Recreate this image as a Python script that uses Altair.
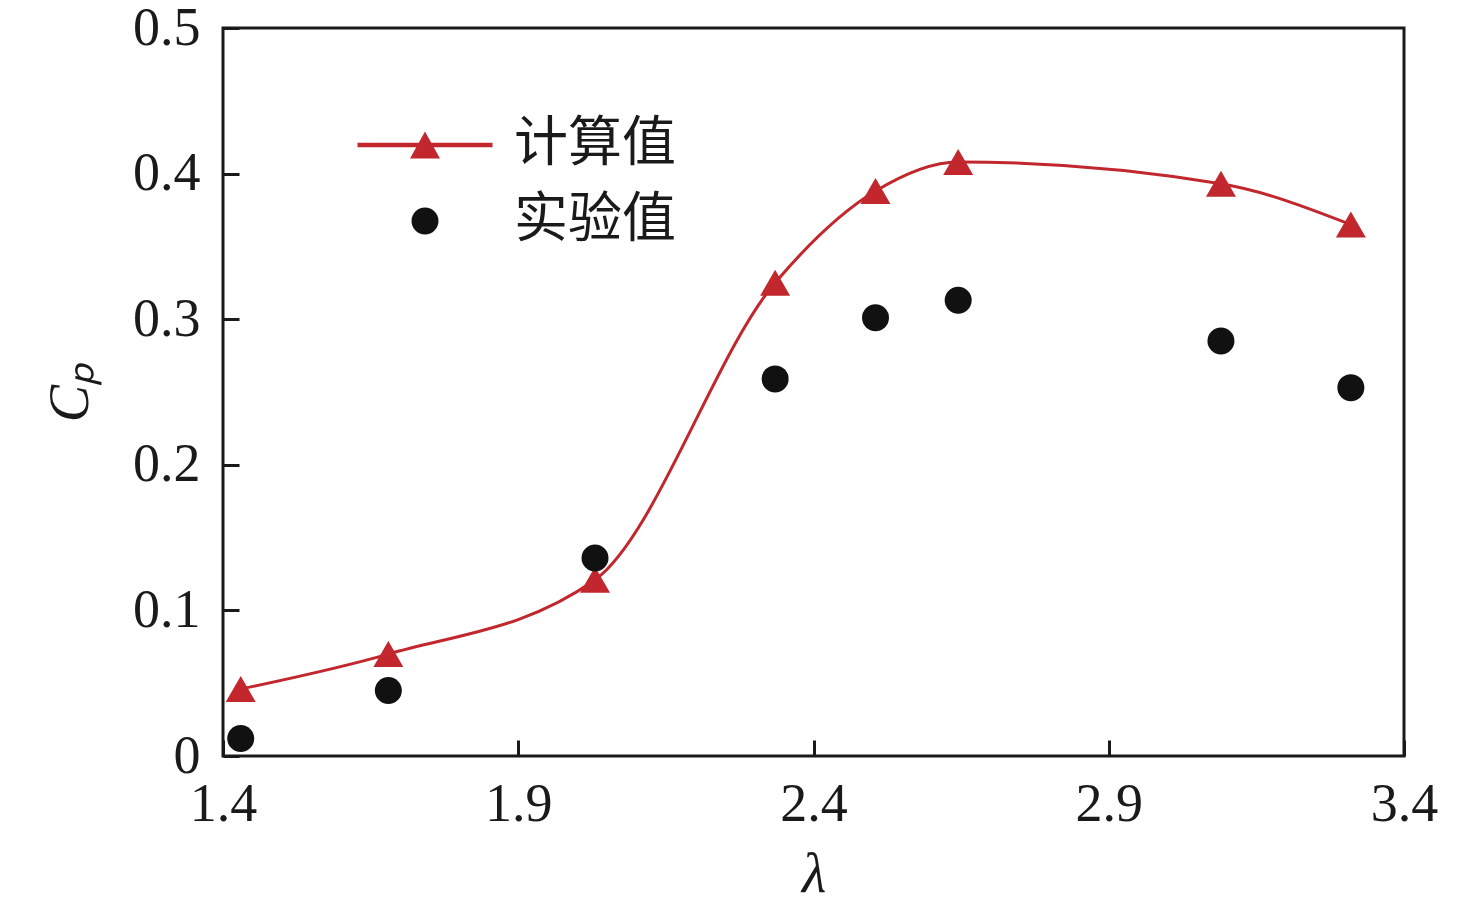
import altair as alt
import pandas as pd

# ---- data ----
lam = [1.43, 1.68, 2.03, 2.335, 2.505, 2.645, 3.09, 3.31]
cp_calc = [0.046, 0.070, 0.121, 0.325, 0.388, 0.408, 0.393, 0.365]
cp_exp = [0.012, 0.045, 0.136, 0.259, 0.301, 0.313, 0.285, 0.253]
series_names = ["计算值", "实验值"]
x_ticks = [1.4, 1.9, 2.4, 2.9, 3.4]
y_ticks = [0, 0.1, 0.2, 0.3, 0.4, 0.5]

RED = "#c1272d"
BLACK = "#111111"

calc_df = pd.DataFrame({"lam": lam, "cp": cp_calc})
exp_df = pd.DataFrame({"lam": lam, "cp": cp_exp})
legend_df = pd.DataFrame({"series": series_names, "keep": [0, 0]})

W, H = 1181, 728

x_enc = alt.X(
    "lam:Q",
    scale=alt.Scale(domain=[1.4, 3.4], nice=False, zero=False),
    axis=alt.Axis(
        values=x_ticks,
        labelExpr="format(datum.value, '.1f')",
        title="λ",
        offset=-16,
        tickSize=16,
        tickWidth=3,
        tickColor="#1a1a1a",
        domain=False,
        grid=False,
        labelFlush=False,
        labelPadding=21,
        titlePadding=16,
        titleFontStyle="italic",
    ),
)
y_enc = alt.Y(
    "cp:Q",
    scale=alt.Scale(domain=[0, 0.5], nice=False),
    axis=alt.Axis(
        values=y_ticks,
        labelExpr="datum.value == 0 ? '0' : format(datum.value, '.1f')",
        title="Cₚ",
        offset=-16,
        tickSize=16,
        tickWidth=3,
        tickColor="#1a1a1a",
        domain=False,
        grid=False,
        labelFlush=False,
        labelPadding=23,
        titlePadding=33,
        titleFontStyle="italic",
    ),
)

line = alt.Chart(calc_df).mark_line(
    color=RED, strokeWidth=3, interpolate="monotone"
).encode(x=x_enc, y=y_enc)

tri = alt.Chart(calc_df).mark_point(
    shape="triangle-up", filled=True, color=RED, size=900, opacity=1
).encode(x="lam:Q", y="cp:Q")

dots = alt.Chart(exp_df).mark_point(
    shape="circle", filled=True, color=BLACK, size=729, opacity=1
).encode(x="lam:Q", y="cp:Q")

line_tri_path = (
    "M-4.5,-0.15 L4.5,-0.15 L4.5,0.15 L-4.5,0.15 Z "
    "M0,-0.9 L1,0.9 L-1,0.9 Z"
)
circle_path = "M-0.9,0 A0.9,0.9 0 1,0 0.9,0 A0.9,0.9 0 1,0 -0.9,0 Z"

legend_props = dict(
    title=None,
    orient="none",
    legendX=175,
    legendY=90,
    symbolSize=900,
    symbolStrokeWidth=0,
    symbolOpacity=1,
    labelOffset=62,
    labelLimit=0,
    rowPadding=22,
    labelFont="Noto Sans CJK SC",
    labelFontSize=54,
    labelColor="#1a1a1a",
    padding=0,
)

legend_layer = alt.Chart(legend_df).transform_filter(
    alt.datum.keep > 0
).mark_point(filled=True, opacity=1).encode(
    shape=alt.Shape(
        "series:N",
        scale=alt.Scale(domain=series_names, range=[line_tri_path, circle_path]),
        legend=alt.Legend(**legend_props),
    ),
    color=alt.Color(
        "series:N",
        scale=alt.Scale(domain=series_names, range=[RED, BLACK]),
        legend=alt.Legend(**legend_props),
    ),
)

chart = alt.layer(line, tri, dots, legend_layer).properties(
    width=W,
    height=H,
    autosize=alt.AutoSizeParams(type="none"),
    padding={"left": 215, "top": 20, "right": 50, "bottom": 150},
).configure_view(
    stroke="#1a1a1a", strokeWidth=3
).configure_axis(
    labelFont="Liberation Serif",
    labelFontSize=54,
    labelColor="#1a1a1a",
    titleFont="Liberation Serif",
    titleFontSize=56,
    titleFontWeight="normal",
    titleColor="#1a1a1a",
)

chart.save("out.html", embed_options={"renderer": "svg", "actions": False})
